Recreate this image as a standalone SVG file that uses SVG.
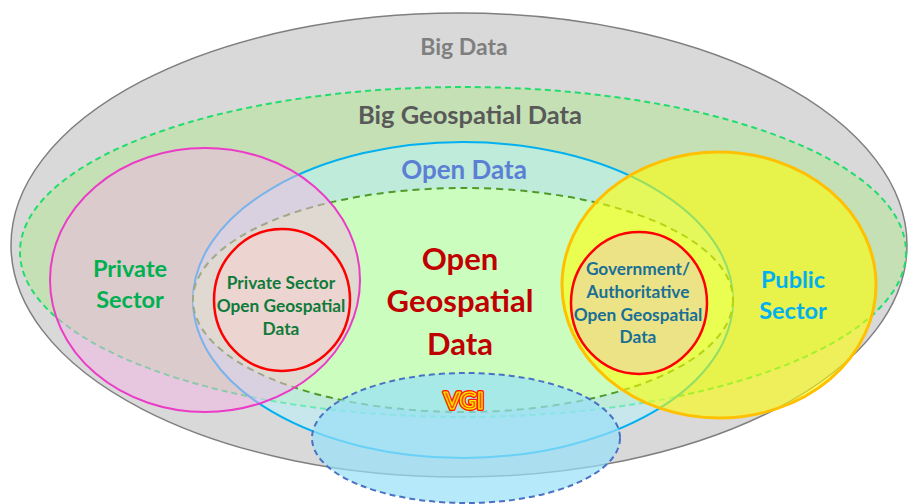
<svg xmlns="http://www.w3.org/2000/svg" width="910" height="504" viewBox="0 0 910 504">
  <style>
    text { font-family: Lato, "Liberation Sans", "DejaVu Sans", sans-serif; font-weight: 700; text-anchor: middle; }
    .t-big { font-size: 23px; fill: #7f7f7f; }
    .t-bgeo { font-size: 25.5px; fill: #595959; }
    .t-open { font-size: 26px; fill: #5b7fd4; }
    .t-priv { font-size: 23.5px; fill: #00b050; }
    .t-pub { font-size: 23.5px; fill: #00b0f0; }
    .t-ogd { font-size: 31px; fill: #c00000; }
    .t-pogd { font-size: 17.3px; fill: #0f7a3a; }
    .t-gogd { font-size: 17.3px; fill: #1a6f96; }
    .t-vgi-back { font-size: 23.5px; fill: none; stroke: #ff1a00; stroke-width: 4; stroke-linejoin: round; }
    .t-vgi { font-size: 23.5px; fill: #ff4a00; stroke: #ffee00; stroke-width: 1.2; stroke-linejoin: round; }
  </style>

  <!-- outer sets -->
  <g id="big-data">
    <ellipse cx="459" cy="245" rx="448" ry="232" fill="#d9d9d9" stroke="#7f7f7f" stroke-width="1.5"/>
  </g>
  <g id="big-geospatial-data">
    <ellipse cx="463" cy="252" rx="443" ry="165" fill="#c5e0b4" stroke="#22dd6e" stroke-width="2" stroke-dasharray="6 4"/>
  </g>
  <g id="open-data">
    <ellipse cx="463" cy="300" rx="270" ry="158" fill="#b7f5ff" fill-opacity="0.5" stroke="#00b0f0" stroke-width="2"/>
  </g>
  <g id="open-geospatial-data">
    <ellipse cx="463" cy="300" rx="270" ry="112" fill="#ccffbb" fill-opacity="0.9" stroke="#4f9a2a" stroke-width="2" stroke-dasharray="7 5"/>
  </g>
  <g id="private-sector">
    <ellipse cx="205" cy="280" rx="155" ry="132" fill="#f3b5e6" fill-opacity="0.5" stroke="#ea3cc6" stroke-width="2"/>
  </g>
  <g id="public-sector">
    <ellipse cx="719" cy="285" rx="157" ry="133" fill="#ffff00" fill-opacity="0.58" stroke="#ffc000" stroke-width="3"/>
  </g>
  <g id="private-sector-ogd">
    <ellipse cx="282" cy="300" rx="68" ry="71" fill="#ecd5d0" stroke="#ff0000" stroke-width="2.5"/>
  </g>
  <g id="government-ogd">
    <ellipse cx="639" cy="303" rx="68" ry="71" fill="#ebe385" stroke="#ff0000" stroke-width="2.5"/>
  </g>
  <g id="vgi">
    <ellipse cx="466" cy="438" rx="154" ry="65" fill="#97dff8" fill-opacity="0.7" stroke="#4a72c4" stroke-width="2" stroke-dasharray="6 4"/>
  </g>

  <!-- labels -->
  <g id="labels">
    <text class="t-big" x="464" y="55">Big Data</text>
    <text class="t-bgeo" x="470" y="124">Big Geospatial Data</text>
    <text class="t-open" x="464" y="179">Open Data</text>
    <text class="t-priv" x="130" y="277">Private</text>
    <text class="t-priv" x="130" y="308">Sector</text>
    <text class="t-pub" x="793" y="288">Public</text>
    <text class="t-pub" x="793" y="319">Sector</text>
    <text class="t-ogd" x="460" y="270">Open</text>
    <text class="t-ogd" x="460" y="312">Geospatial</text>
    <text class="t-ogd" x="460" y="355">Data</text>
    <text class="t-pogd" x="281" y="289">Private Sector</text>
    <text class="t-pogd" x="281" y="312">Open Geospatial</text>
    <text class="t-pogd" x="281" y="335">Data</text>
    <text class="t-gogd" x="638" y="275">Government/</text>
    <text class="t-gogd" x="638" y="298">Authoritative</text>
    <text class="t-gogd" x="638" y="321">Open Geospatial</text>
    <text class="t-gogd" x="638" y="343">Data</text>
    <text class="t-vgi-back" x="464" y="409">VGI</text>
    <text class="t-vgi" x="464" y="409">VGI</text>
  </g>
</svg>
